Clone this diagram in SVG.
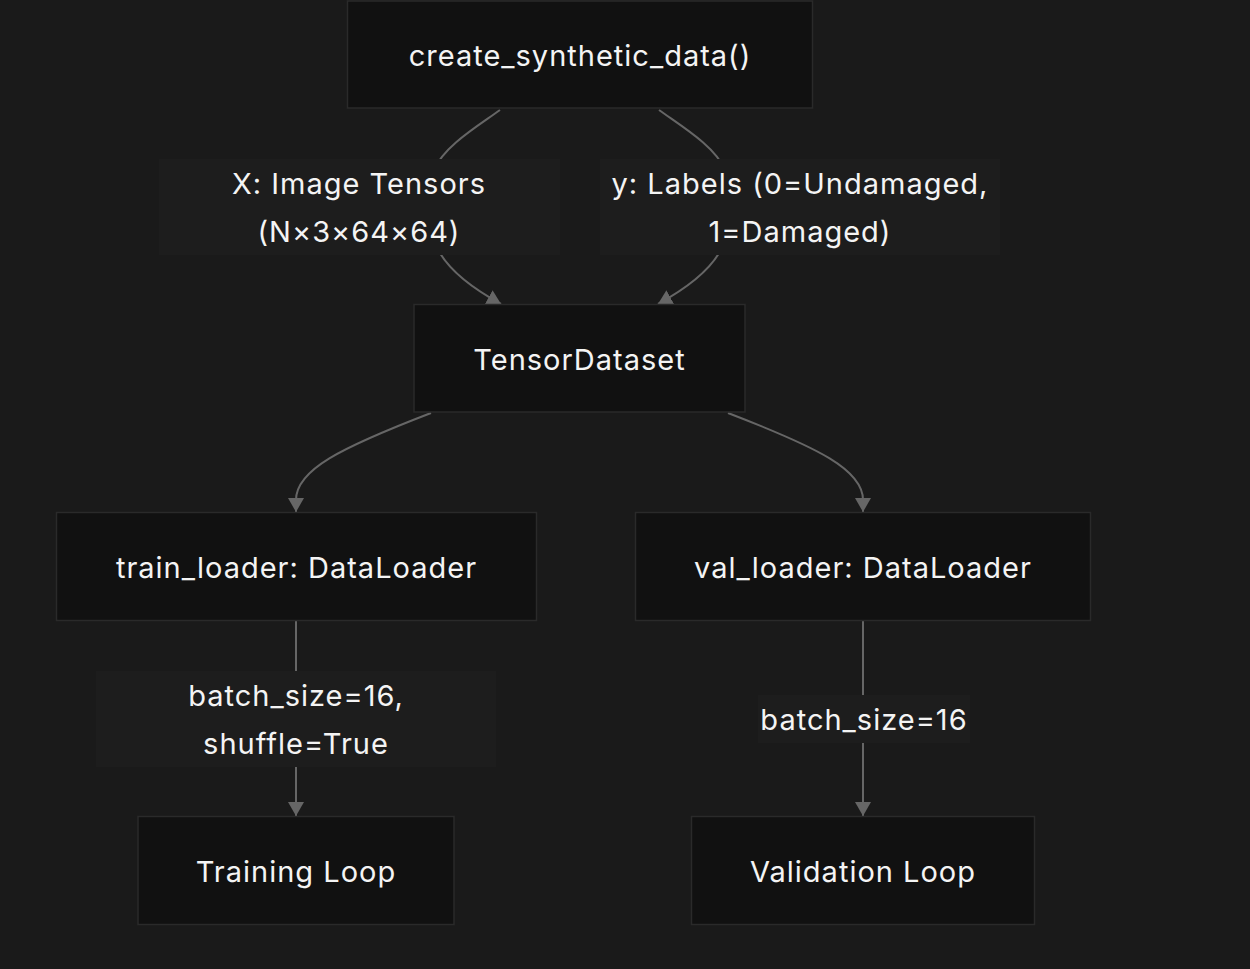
<svg xmlns="http://www.w3.org/2000/svg" width="1250" height="969" viewBox="0 0 1250 969">
<defs>
<style>
.node rect{fill:#111111;stroke:#2a2a2a;stroke-width:1.5}
.lbl rect{fill:#1d1d1d;stroke:none}
text{font-family:Inter,"Noto Sans","Liberation Sans",sans-serif;font-size:29px;letter-spacing:1px;fill:#f4f4f4;text-anchor:middle}
.edge{fill:none;stroke:#666666;stroke-width:2}
</style>
<marker id="arr" viewBox="0 0 14 16" refX="14" refY="8" markerWidth="14" markerHeight="16" markerUnits="userSpaceOnUse" orient="auto">
<path d="M0,0 L14,8 L0,16 z" fill="#666666"/>
</marker>
</defs>
<rect width="1250" height="969" fill="#1a1a1a"/>
<g id="connectors">
<path class="edge" d="M500,110 C478,126 444,146 434,170 L434,240 C442,266 470,287 501,304" marker-end="url(#arr)"/>
<path class="edge" d="M659,110 C681,126 715,146 725,170 L725,240 C717,266 689,287 658,304" marker-end="url(#arr)"/>
<path class="edge" d="M431,413 C340,448 296,470 296,500 L296,512" marker-end="url(#arr)"/>
<path class="edge" d="M728,413 C819,448 863,470 863,500 L863,512" marker-end="url(#arr)"/>
<path class="edge" d="M296,621 L296,816" marker-end="url(#arr)"/>
<path class="edge" d="M863,621 L863,816" marker-end="url(#arr)"/>
</g>
<g id="edge-labels">
<g id="lbl-x" class="lbl"><rect x="159" y="159" width="401" height="96"/><text x="359" y="194">X: Image Tensors</text><text x="359" y="242">(N×3×64×64)</text></g>
<g id="lbl-y" class="lbl"><rect x="600" y="159" width="400" height="96"/><text x="800" y="194">y: Labels (0=Undamaged,</text><text x="800" y="242">1=Damaged)</text></g>
<g id="lbl-train" class="lbl"><rect x="96" y="671" width="400" height="96"/><text x="296" y="706">batch_size=16,</text><text x="296" y="754">shuffle=True</text></g>
<g id="lbl-val" class="lbl"><rect x="758" y="695" width="212" height="48"/><text x="864" y="730">batch_size=16</text></g>
</g>
<g id="n-create" class="node"><rect x="347.5" y="1" width="465" height="107"/><text x="580" y="66">create_synthetic_data()</text></g>
<g id="n-dataset" class="node"><rect x="414" y="304.5" width="331" height="107.5"/><text x="579.5" y="370">TensorDataset</text></g>
<g id="n-train" class="node"><rect x="56.5" y="512.5" width="480" height="108"/><text x="296.5" y="578">train_loader: DataLoader</text></g>
<g id="n-val" class="node"><rect x="635.5" y="512.5" width="455" height="108"/><text x="863" y="578">val_loader: DataLoader</text></g>
<g id="n-trainloop" class="node"><rect x="138" y="816.5" width="316" height="108"/><text x="296" y="882">Training Loop</text></g>
<g id="n-valloop" class="node"><rect x="691.5" y="816.5" width="343" height="108"/><text x="863" y="882">Validation Loop</text></g>
</svg>
